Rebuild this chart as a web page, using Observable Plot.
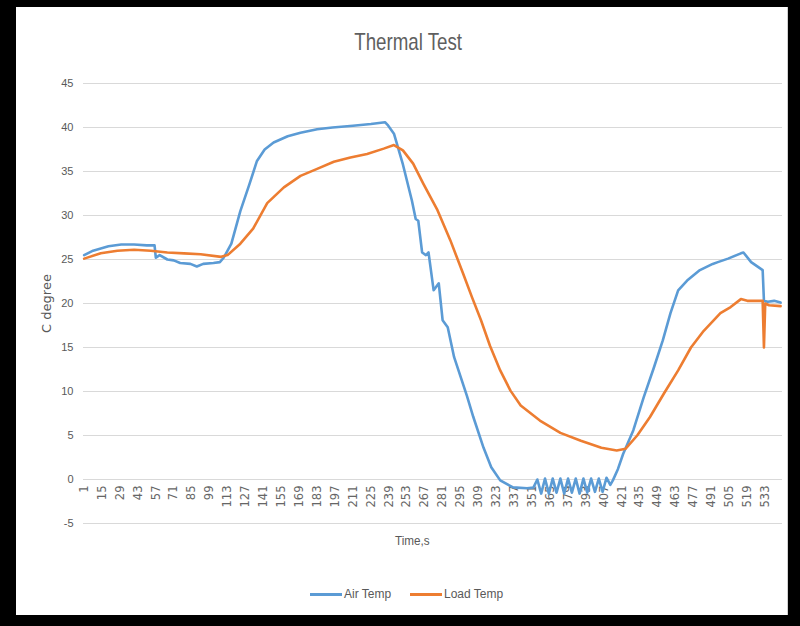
<!DOCTYPE html>
<html>
<head>
<meta charset="utf-8">
<script src="https://cdn.jsdelivr.net/npm/d3@7"></script>
<script src="https://cdn.jsdelivr.net/npm/@observablehq/plot@0.6"></script>
<style>
  html, body { margin: 0; padding: 0; background: #000; }
  #wrap { position: relative; width: 800px; height: 626px; overflow: hidden; background: #000; }
  #panel { position: absolute; left: 16px; top: 7px; width: 771px; height: 608px; background: #fff; border-right: 1px solid #d0d0d0; }
  #chart { position: absolute; left: 0; top: 0; }
  .title { position: absolute; left: 0; width: 816px; top: 28px; text-align: center; font-family: "Liberation Sans", Arial, sans-serif; font-size: 24px; color: #5f5f5f; }
  .title span { display: inline-block; transform: scaleX(0.78); }
  .xlabel { position: absolute; left: 0; width: 824px; top: 533px; text-align: center; font-family: "Liberation Sans", Arial, sans-serif; font-size: 13px; color: #595959; }
  .xlabel span { display: inline-block; transform: scaleX(0.9); }
  .legend { position: absolute; top: 587px; left: 0; width: 800px; font-family: "Liberation Sans", Arial, sans-serif; font-size: 12px; color: #595959; }
  .item { position: absolute; display: flex; align-items: center; }
  .sw { width: 32px; height: 3px; margin-right: 2px; }
</style>
</head>
<body>
<div id="wrap">
  <div id="panel"></div>
  <div id="chart"></div>
  <div class="title"><span>Thermal Test</span></div>
  <div class="xlabel"><span>Time,s</span></div>
  <div class="legend" id="legend"></div>
</div>
<script>
// ---- data ----
const nSamples = 546;
const seriesNames = ["Air Temp", "Load Temp"];
const seriesColors = ["#5B9BD5", "#ED7D31"];

const airTime = [1, 8, 20, 30, 40, 50, 56, 57, 60, 66, 71, 76, 84, 89, 94, 102, 107, 110, 116, 123, 130, 136, 142, 149, 160, 170, 183, 195, 211, 225, 236, 238, 243, 250, 257, 260, 262, 265, 268, 270, 274, 278, 281, 285, 290, 300, 305, 313, 319, 326, 336, 347, 352,
  355, 358, 361, 364, 367, 370, 373, 376, 379, 382, 385, 388, 391, 394, 397, 400, 403, 406, 409, 412,
  414, 418, 422, 430, 438, 446, 453, 459, 465, 472, 482, 492, 496, 504, 514, 516, 522, 531, 532, 535, 540, 545];
const airTemp = [25.5, 26.0, 26.5, 26.7, 26.7, 26.6, 26.6, 25.2, 25.5, 25.0, 24.9, 24.6, 24.5, 24.2, 24.5, 24.6, 24.7, 25.2, 26.8, 30.5, 33.5, 36.2, 37.5, 38.3, 39.0, 39.4, 39.8, 40.0, 40.2, 40.4, 40.6, 40.3, 39.3, 35.8, 31.7, 29.6, 29.4, 25.8, 25.5, 25.8, 21.5, 22.3, 18.1, 17.3, 13.9, 9.5, 7.1, 3.6, 1.4, -0.1, -0.9, -1.0, -0.9,
  0.0, -1.6, 0.1, -1.6, 0.1, -1.5, 0.1, -1.6, 0.1, -1.5, 0.1, -1.6, 0.1, -1.5, 0.1, -1.4, 0.1, -1.4, 0.2, -0.6,
  -0.1, 1.2, 2.9, 5.6, 9.3, 12.7, 15.8, 18.9, 21.5, 22.6, 23.8, 24.5, 24.7, 25.1, 25.7, 25.8, 24.7, 23.8, 20.3, 20.2, 20.3, 20.1];

const loadTime = [1, 14, 27, 40, 53, 66, 79, 92, 108, 113, 123, 133, 144, 157, 170, 183, 196, 209, 222, 235, 243, 250, 258, 266, 277, 287, 297, 304, 311, 318, 326, 334, 342, 357, 373, 389, 405, 417, 424, 433, 443, 454, 465, 475, 485, 498, 506, 514, 519, 531, 532, 533, 536, 545];
const loadTemp = [25.1, 25.7, 26.0, 26.1, 26.0, 25.8, 25.7, 25.6, 25.3, 25.5, 26.8, 28.5, 31.4, 33.2, 34.5, 35.3, 36.1, 36.6, 37.0, 37.6, 38.0, 37.4, 35.9, 33.6, 30.6, 27.2, 23.4, 20.7, 18.1, 15.2, 12.4, 10.1, 8.4, 6.7, 5.3, 4.4, 3.6, 3.3, 3.5, 5.0, 7.1, 9.8, 12.4, 15.0, 16.9, 18.9, 19.6, 20.5, 20.3, 20.3, 15.0, 20.0, 19.8, 19.7];

const xTickLabels = [1, 15, 29, 43, 57, 71, 85, 99, 113, 127, 141, 155, 169, 183, 197, 211, 225, 239, 253, 267, 281, 295, 309, 323, 337, 351, 365, 379, 393, 407, 421, 435, 449, 463, 477, 491, 505, 519, 533];
const yTicks = [-5, 0, 5, 10, 15, 20, 25, 30, 35, 40, 45];
const yLabel = "C degree";

// ---- build tables ----
const air = airTime.map((t, i) => ({t, v: airTemp[i]}));
const load = loadTime.map((t, i) => ({t, v: loadTemp[i]}));

const plot = Plot.plot({
  width: 800,
  height: 626,
  marginLeft: 83,
  marginRight: 18,
  marginTop: 83,
  marginBottom: 103,
  style: {background: "transparent", overflow: "visible"},
  x: {domain: [0.5, nSamples + 0.5], axis: null},
  y: {domain: [-5, 45]},
  marks: [
    Plot.gridY(yTicks, {stroke: "#d9d9d9", strokeOpacity: 1, strokeWidth: 1}),
    Plot.axisY(yTicks, {
      tickSize: 0, tickPadding: 10, fontSize: 11, tickFormat: d => String(d),
      fontFamily: "Liberation Sans, Arial, sans-serif", color: "#595959",
      label: yLabel, labelAnchor: "center", labelArrow: "none", labelOffset: 42
    }),
    Plot.text(xTickLabels, {
      x: d => d, y: d => 0, text: d => String(d),
      rotate: -90, textAnchor: "end", dy: 6,
      fontSize: 11.5, fontFamily: "DejaVu Sans, sans-serif", fill: "#666666"
    }),
    Plot.line(air, {x: "t", y: "v", stroke: seriesColors[0], strokeWidth: 2.6}),
    Plot.line(load, {x: "t", y: "v", stroke: seriesColors[1], strokeWidth: 2.6})
  ]
});
document.getElementById("chart").appendChild(plot);

// style the y axis label
plot.querySelectorAll("text").forEach(t => {
  if (t.textContent === yLabel) {
    t.setAttribute("font-family", "DejaVu Sans, sans-serif");
    t.setAttribute("font-size", "13");
    t.setAttribute("fill", "#595959");
  }
});

// legend
const legend = document.getElementById("legend");
const legendX = [310, 410];
seriesNames.forEach((name, i) => {
  const it = document.createElement("div");
  it.className = "item";
  it.style.left = legendX[i] + "px";
  it.innerHTML = `<div class="sw" style="background:${seriesColors[i]}"></div><span>${name}</span>`;
  legend.appendChild(it);
});
</script>
</body>
</html>
